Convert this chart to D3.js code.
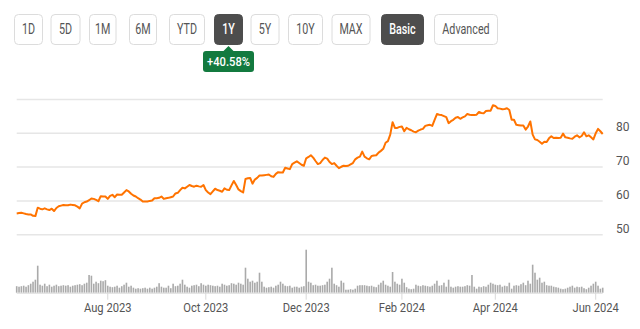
<!DOCTYPE html>
<html><head><meta charset="utf-8">
<script src="https://cdn.jsdelivr.net/npm/d3@7"></script>
<style>
html,body{margin:0;padding:0;background:#fff;}
svg{display:block;font-family:Roboto,"Noto Sans",sans-serif;}
</style></head>
<body><svg id="c" width="640" height="329"></svg>
<script>
const rangeButtons = ["1D","5D","1M","6M","YTD","1Y","5Y","10Y","MAX"];
const modeButtons = ["Basic","Advanced"];
const activeRange = "1Y";
const activeMode = "Basic";
const changeLabel = "+40.58%";

const prices = [
56.3,56.4,56.5,56.3,56.1,56.0,56.0,55.6,55.5,58.0,
57.7,57.5,57.8,57.5,57.3,57.7,57.0,57.9,58.4,58.6,
58.8,58.7,58.7,58.9,58.8,58.7,58.3,57.8,59.2,59.6,
59.8,60.2,60.7,60.6,60.3,59.9,61.4,61.3,61.3,60.6,
61.5,61.8,61.1,61.9,61.8,61.8,62.5,63.2,62.8,62.1,
61.6,61.3,60.8,60.4,59.8,59.8,59.8,60.0,60.1,60.8,
60.8,60.9,61.3,60.6,60.8,60.9,61.1,61.3,62.2,62.4,
63.2,63.9,63.7,64.2,64.7,64.4,64.2,64.5,64.3,64.2,
64.7,63.2,62.5,62.0,62.8,63.6,63.2,63.0,62.7,63.7,
63.3,63.2,64.6,65.9,64.7,63.4,62.9,62.5,66.5,66.7,
66.8,65.1,66.3,66.8,67.5,67.5,67.6,67.7,67.8,67.3,
67.1,68.0,68.5,68.4,68.4,69.8,69.6,69.4,70.9,71.3,
71.7,71.2,70.7,70.4,72.6,73.0,73.5,72.8,71.8,70.9,
71.2,72.1,72.8,72.5,71.5,70.9,71.2,70.4,69.7,70.1,
70.4,70.3,70.4,70.8,71.2,72.3,72.8,73.1,74.6,73.1,
72.6,72.3,73.3,73.4,73.5,74.3,74.8,75.4,77.2,77.7,
79.6,83.3,81.6,81.6,81.9,82.0,80.6,81.6,81.2,80.9,
80.5,80.3,80.8,81.1,81.3,82.2,82.4,82.5,82.2,84.0,
85.7,85.5,85.4,85.1,84.8,83.0,83.6,84.0,84.6,84.8,
84.3,84.7,85.0,85.7,85.5,85.4,85.4,85.5,86.3,86.0,
85.9,86.6,86.7,86.7,88.3,88.1,87.4,87.3,87.1,87.2,
87.4,86.9,84.0,84.0,82.5,82.4,82.3,82.3,81.1,82.0,
83.5,79.6,78.2,78.0,77.5,76.9,77.5,77.4,78.5,79.1,
78.6,78.7,78.6,78.7,79.9,78.8,78.7,78.5,78.4,79.0,
79.4,78.8,79.2,80.3,79.1,79.4,78.8,78.2,80.0,81.3,
80.6,79.8];

const volumes = [
6.5,6,6.5,7,6,7.5,9,11,13,27,
8,7,9,6.5,8,6,7,8,6.5,7,
7.5,7,7.5,6,7,7.5,8,8.5,7.5,9,
10,17.7,17,9,11,9.5,12,11.5,12.5,7,
6,5.5,6,7,5,6.5,8,10,6,7,
5,4,4.5,4,4.5,5,4,5,4,5,
6,9.5,6,5,5,7,4.5,9,6.5,7,
9,13,8,6,5,7,7.5,8,6.5,9.5,
8,7,8,7.5,7,6.5,7,6,9,8,
7,7.5,9.5,9,8,10,9,8,25,14,
11,12,10,11,20,11,6,5,5.5,6,
5,7,8,11,9,7,6.5,7,5,6,
6,5,6,6.5,43,11,10,7.5,8,7,
7,7.5,8,11,14,25,9,7.5,6,12,
10,3,3,3.5,3,4,7,7.5,7.5,7.5,
7,6.5,7,6,5.5,8,10,12,8,7,
6,20.7,11,9,8,14,10,5.5,4,3.5,
4,8,7,6.5,7.5,7,6.5,6,7,9,
12,7,7.5,10,6,13,6,5,6,6.5,
6,6,6.5,7.5,7,17.7,6,4,6,5.5,
6.5,6,8,10,9,8,7.5,8,6,7,
6.5,10,4,7,7.5,7,8.5,10,7.5,12,
9,28,20,13,15,10,11,7.5,7,7,
6,5.5,5,4,3.5,4,5,6,7,5,
6,5.5,6,4.5,3.5,5,7,9,11,7,
4,5];

const priceTicks = [50,60,70,80,90];
const priceTickLabels = ["50","60","70","80",""];
const dateTickLabels = ["Aug 2023","Oct 2023","Dec 2023","Feb 2024","Apr 2024","Jun 2024"];
const dateTickIndex = [39,81,124,165,205,248];

// button layout (left edge / width in px)
const btnLeft  = [14, 50.5, 89, 129, 169, 214, 250.5, 288, 331.5, 381, 434];
const btnWidth = [28, 29, 26.5, 27, 35, 28, 28, 34, 38, 42, 63];
const condense = 0.74;

const svg = d3.select("#c");

// ---- buttons ----
const btnH = 30, btnY = 14;
const allBtns = rangeButtons.map(t=>({t,active:t===activeRange}))
  .concat(modeButtons.map(t=>({t,active:t===activeMode})));
const bg = svg.append("g");
const btnPos = allBtns.map((b,i)=>({...b,x:btnLeft[i],w:btnWidth[i]}));
btnPos.forEach(b=>{
  bg.append("rect").attr("x",b.x+0.5).attr("y",btnY+0.5).attr("width",b.w).attr("height",btnH)
    .attr("rx",4).attr("fill",b.active?"#4d4d4d":"#fff").attr("stroke",b.active?"#4d4d4d":"#dcdcdc");
  const t = bg.append("text").attr("x",b.x+0.5+b.w/2).attr("y",btnY+btnH/2+5.2).attr("text-anchor","middle")
    .attr("font-size",14.5).attr("fill",b.active?"#fff":"#555").attr("font-weight",b.active?500:400).text(b.t);
  const w = t.node().getComputedTextLength();
  t.attr("textLength",w*condense).attr("lengthAdjust","spacingAndGlyphs");
});
// tooltip
const act = btnPos.find(b=>b.t===activeRange);
const cx = act.x+0.5+act.w/2;
const tipW = 51, tipH = 21, tipY = 51;
const tg = svg.append("g");
tg.append("path").attr("d",`M${cx-5},${tipY} L${cx},${tipY-5} L${cx+5},${tipY} Z`).attr("fill","#137a3f");
tg.append("rect").attr("x",cx-tipW/2).attr("y",tipY).attr("width",tipW).attr("height",tipH).attr("rx",3).attr("fill","#137a3f");
const tt = tg.append("text").attr("x",cx).attr("y",tipY+15).attr("text-anchor","middle").attr("font-size",13)
  .attr("fill","#fff").attr("font-weight",500).text(changeLabel);
tt.attr("textLength",tt.node().getComputedTextLength()*0.86).attr("lengthAdjust","spacingAndGlyphs");

// ---- scales ----
const x = d3.scaleLinear().domain([0, prices.length-1]).range([16.7, 602.7]);
const y = d3.scaleLinear().domain([50, 90]).range([234.7, 99.5]);
const yV = d3.scaleLinear().domain([0, 45]).range([292.7, 247.7]);

// grid
const grid = svg.append("g");
priceTicks.forEach((t,i)=>{
  grid.append("line").attr("x1",16.7).attr("x2",602.7).attr("y1",y(t)).attr("y2",y(t))
    .attr("stroke","#e6e6e6").attr("stroke-width",1.5);
  if(priceTickLabels[i]) grid.append("text").attr("x",616).attr("y",y(t)-2)
    .attr("font-size",12).attr("fill","#555").text(priceTickLabels[i]);
});

// volume bars
svg.append("g").selectAll("rect").data(volumes).join("rect")
  .attr("x",(d,i)=>x(i)-0.8).attr("width",1.6)
  .attr("y",d=>yV(d)).attr("height",d=>yV(0)-yV(d))
  .attr("fill","#aaaaaa");

// x axis baseline + ticks
svg.append("line").attr("x1",16.7).attr("x2",602.7).attr("y1",yV(0)+0.5).attr("y2",yV(0)+0.5)
  .attr("stroke","#d9d9d9").attr("stroke-width",1);
const xg = svg.append("g");
dateTickIndex.forEach((idx,i)=>{
  xg.append("line").attr("x1",x(idx)).attr("x2",x(idx)).attr("y1",yV(0)).attr("y2",yV(0)+7)
    .attr("stroke","#d9d9d9").attr("stroke-width",1);
  const t = xg.append("text").attr("x",x(idx)).attr("y",312).attr("text-anchor","middle")
    .attr("font-size",12).attr("fill","#555").text(dateTickLabels[i]);
  t.attr("textLength",t.node().getComputedTextLength()*0.93).attr("lengthAdjust","spacingAndGlyphs");
});

// price line
const line = d3.line().x((d,i)=>x(i)).y(d=>y(d)).curve(d3.curveLinear);
svg.append("path").datum(prices).attr("d",line).attr("fill","none")
  .attr("stroke","#ff7300").attr("stroke-width",2).attr("stroke-linejoin","round");
</script></body></html>
